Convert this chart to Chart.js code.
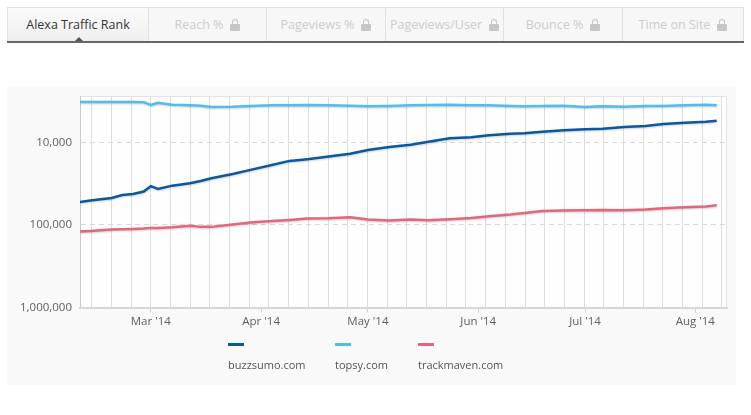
<!DOCTYPE html>
<html>
<head>
<meta charset="utf-8">
<script src="https://cdn.jsdelivr.net/npm/chart.js@4.4.1/dist/chart.umd.min.js"></script>
<style>
  html, body { margin:0; padding:0; }
  body { width:751px; height:415px; position:relative; overflow:hidden; background:#fff; font-family:"Open Sans", "Noto Sans", sans-serif; }
  #tabs { position:absolute; left:7px; top:7px; width:737px; height:34px; border-bottom:2px solid #666; display:flex; }
  .tab { box-sizing:border-box; height:34px; border-top:1px solid #e2e2e2; border-right:1px solid #e2e2e2; background:#f7f7f7; color:#cccccc; font-size:12.5px; display:flex; align-items:center; justify-content:center; }
  .tab:first-child { border-left:1px solid #e2e2e2; }
  .tab.active { background:linear-gradient(#fbfbfb,#efefef); color:#333; position:relative; }
  .lock { display:inline-block; position:relative; width:10px; height:12px; margin-left:7px; }
  .lock::before { content:''; position:absolute; left:1.5px; top:0; width:4px; height:6px; border:1.5px solid #c6c6c6; border-bottom:none; border-radius:3px 3px 0 0; }
  .lock::after { content:''; position:absolute; left:0; top:5px; width:10px; height:7px; background:#c6c6c6; border-radius:1px; }
  #tri { position:absolute; left:75px; top:37px; width:0; height:0; border-left:4px solid transparent; border-right:4px solid transparent; border-bottom:4px solid #555; }
  #panel { position:absolute; left:7px; top:86px; width:729px; height:299px; background:#f9f9f9; }
  #wrap { position:absolute; left:0; top:0; width:751px; height:415px; }
  #legend { position:absolute; left:228px; top:343px; display:flex; }
  .li { display:flex; flex-direction:column; align-items:flex-start; font-size:11px; color:#555; }
  .sw { width:16px; height:3px; margin-bottom:11px; }
</style>
</head>
<body>
<div id="tabs"></div>
<div id="tri"></div>
<div id="panel"></div>
<div id="wrap"><canvas id="c" width="751" height="415" style="width:751px;height:415px"></canvas></div>
<div id="legend"></div>
<script>
// ---- data ----
const tabNames = ["Alexa Traffic Rank", "Reach %", "Pageviews %", "Pageviews/User", "Bounce %", "Time on Site"];
const tabLocked = [false, true, true, true, true, true];

const dates = ["2014-02-09","2014-02-12","2014-02-18","2014-02-21","2014-02-24","2014-02-27","2014-03-01","2014-03-03","2014-03-07","2014-03-12","2014-03-15","2014-03-18","2014-03-24","2014-03-29","2014-04-04","2014-04-09","2014-04-14","2014-04-20","2014-04-26","2014-05-01","2014-05-07","2014-05-13","2014-05-18","2014-05-24","2014-05-30","2014-06-04","2014-06-10","2014-06-14","2014-06-19","2014-06-25","2014-07-01","2014-07-06","2014-07-12","2014-07-18","2014-07-23","2014-07-29","2014-08-04","2014-08-07"];

const buzzsumo = [53000,50800,47200,43400,42200,39500,34000,36700,33500,31300,29400,27200,24200,21600,18800,16800,16000,14900,13800,12400,11400,10700,9830,8950,8700,8230,7870,7780,7440,7160,6960,6850,6530,6350,6010,5800,5640,5480];
const topsy = [3256,3256,3256,3260,3260,3270,3540,3320,3510,3570,3610,3740,3710,3640,3570,3570,3540,3570,3610,3670,3640,3570,3540,3510,3570,3570,3640,3670,3640,3610,3740,3670,3710,3640,3640,3570,3510,3570];
const trackmaven = [120500,118200,114000,112700,111800,110900,108700,108700,106600,102800,105700,105700,99200,93800,89450,87000,83900,83000,80700,86300,88700,86300,87700,85300,82300,78500,75100,71600,67700,67100,66400,65870,66400,65300,62800,61100,60070,57800];

const seriesNames = ["buzzsumo.com", "topsy.com", "trackmaven.com"];
const seriesColors = ["#0b589c", "#52bde9", "#e3667b"];

const monthTickDates = ["2014-03-01","2014-04-01","2014-05-01","2014-06-01","2014-07-01","2014-08-01"];
const monthTickLabels = ["Mar '14","Apr '14","May '14","Jun '14","Jul '14","Aug '14"];
const yTickValues = [10000, 100000, 1000000];

const gridStepDays = 5.534;
const yMin = 2754, yMax = 1000000;

// ---- helpers ----
const ORIGIN = Date.UTC(2014, 2, 1);
function dayOf(s) { const p = s.split('-').map(Number); return (Date.UTC(p[0], p[1]-1, p[2]) - ORIGIN) / 86400000; }

// tabs
const tabsEl = document.getElementById('tabs');
const tabW = [142, 118, 119, 118, 119, 121];
tabNames.forEach((n, i) => {
  const d = document.createElement('div');
  d.className = 'tab' + (i === 0 ? ' active' : '');
  d.style.width = tabW[i] + 'px';
  const t = document.createElement('span'); t.textContent = n; d.appendChild(t);
  if (tabLocked[i]) { const l = document.createElement('span'); l.className = 'lock'; d.appendChild(l); }
  tabsEl.appendChild(d);
});

// legend
const legendEl = document.getElementById('legend');
const legendItemW = [107, 83, 100];
seriesNames.forEach((n, i) => {
  const it = document.createElement('div'); it.className = 'li'; it.style.width = legendItemW[i] + 'px';
  const sw = document.createElement('div'); sw.className = 'sw'; sw.style.background = seriesColors[i];
  const tx = document.createElement('div'); tx.textContent = n;
  it.appendChild(sw); it.appendChild(tx); legendEl.appendChild(it);
});

const xs = dates.map(dayOf);
const seriesData = [buzzsumo, topsy, trackmaven];
const datasets = seriesData.map((arr, i) => ({
  label: seriesNames[i],
  data: arr.map((v, j) => ({ x: xs[j], y: v })),
  borderColor: seriesColors[i],
  borderWidth: 2.5,
  pointRadius: 0,
  tension: 0,
  fill: false
}));

const xMin = -19.9, xMax = 161.9;
const monthVals = monthTickDates.map(dayOf);

function buildXTicks() {
  const map = [];
  for (let k = -10; k <= 40; k++) {
    const v = k * gridStepDays;
    if (v > xMin && v < xMax) map.push({ value: v, grid: true, label: '' });
  }
  monthVals.forEach((mv, i) => {
    const ex = map.find(t => Math.abs(t.value - mv) < 0.05);
    if (ex) { ex.month = true; ex.label = monthTickLabels[i]; ex.value = mv; }
    else map.push({ value: mv, grid: false, month: true, label: monthTickLabels[i] });
  });
  map.sort((a, b) => a.value - b.value);
  return map;
}

const framePlugin = {
  id: 'frame',
  beforeDraw(chart) {
    const { ctx, chartArea: a } = chart;
    ctx.save();
    ctx.fillStyle = '#fefefe';
    ctx.fillRect(a.left, a.top, a.right - a.left, a.bottom - a.top);
    ctx.strokeStyle = '#e3e3e3';
    ctx.lineWidth = 1;
    ctx.beginPath();
    ctx.moveTo(a.left, a.top + 0.5); ctx.lineTo(a.right - 0.5, a.top + 0.5); ctx.lineTo(a.right - 0.5, a.bottom);
    ctx.stroke();
    ctx.restore();
  },
  beforeDatasetDraw(chart) {
    const ctx = chart.ctx; ctx.save();
    ctx.shadowColor = 'rgba(0,0,0,0.18)'; ctx.shadowBlur = 2; ctx.shadowOffsetX = 0.5; ctx.shadowOffsetY = 1;
  },
  afterDatasetDraw(chart) { chart.ctx.restore(); }
};

new Chart(document.getElementById('c'), {
  type: 'line',
  data: { datasets },
  plugins: [framePlugin],
  options: {
    responsive: false,
    animation: false,
    devicePixelRatio: 1,
    layout: { padding: { left: 0, right: 24, top: 96, bottom: 0 } },
    plugins: { legend: { display: false }, tooltip: { enabled: false } },
    scales: {
      x: {
        type: 'linear', min: xMin, max: xMax,
        afterBuildTicks(scale) { scale.ticks = buildXTicks(); },
        afterFit(scale) { scale.height = 107.5; },
        grid: {
          color: c => (c.tick && c.tick.grid) ? '#dddddd' : 'rgba(0,0,0,0)',
          tickColor: c => (c.tick && c.tick.month) ? '#c4d2e2' : 'rgba(0,0,0,0)',
          lineWidth: 1, drawTicks: true, tickLength: 5
        },
        border: { display: true, color: '#d6d6d6', width: 2 },
        ticks: {
          autoSkip: false, maxRotation: 0, minRotation: 0, padding: 2,
          color: '#606060', font: { family: '"Open Sans"', size: 11.5 },
          callback: (v, i, ticks) => ticks[i].label || ''
        }
      },
      y: {
        type: 'logarithmic', reverse: true, min: yMin, max: yMax,
        afterBuildTicks(scale) { scale.ticks = yTickValues.map(v => ({ value: v })); },
        afterFit(scale) { scale.width = 80; },
        grid: {
          color: c => (c.tick && c.tick.value < yMax) ? '#d9d9d9' : 'rgba(0,0,0,0)',
          lineWidth: 1, drawTicks: false
        },
        border: { display: true, color: '#c5cbd6', width: 1, dash: [5, 4] },
        ticks: {
          padding: 8, color: '#606060', font: { family: '"Open Sans"', size: 11.5 },
          callback: v => Number(v).toLocaleString('en-US')
        }
      }
    }
  }
});
</script>
</body>
</html>
